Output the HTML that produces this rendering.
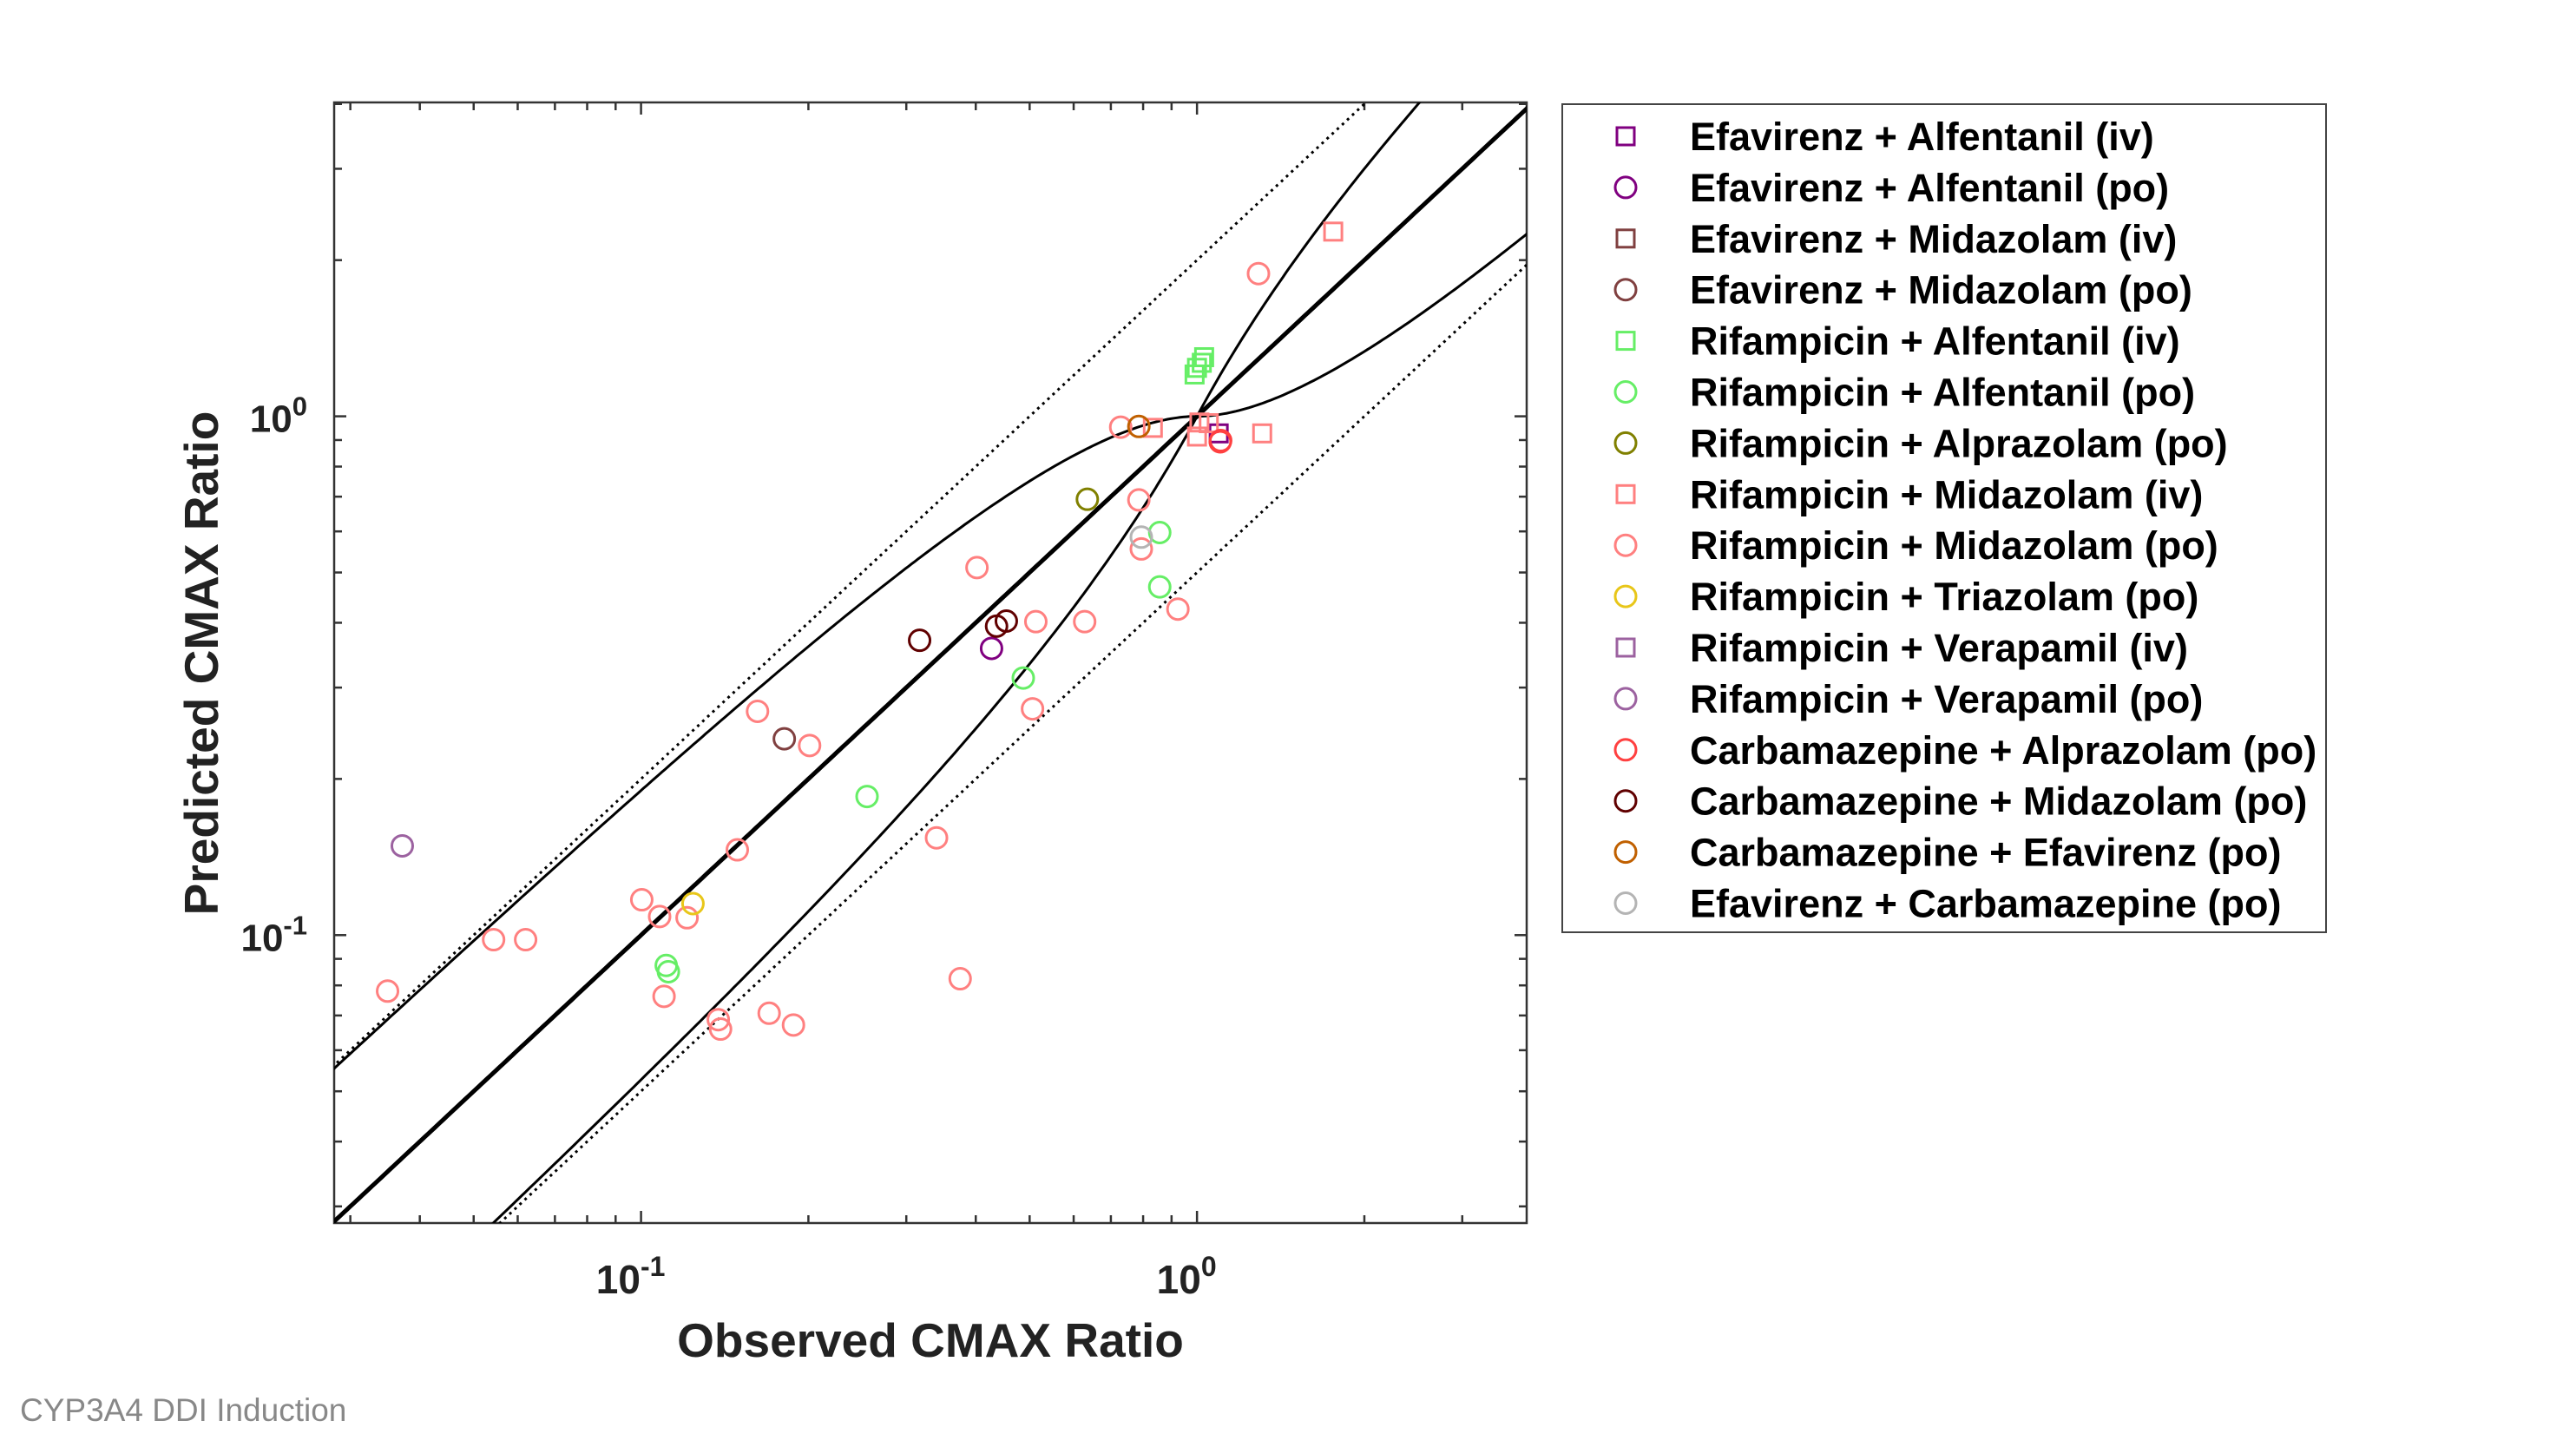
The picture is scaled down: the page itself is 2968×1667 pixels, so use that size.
<!DOCTYPE html>
<html><head><meta charset="utf-8"><style>
html,body{margin:0;padding:0;background:#fff;}
svg{display:block;font-family:"Liberation Sans",Arial,sans-serif;}
</style></head><body>
<svg id="chart" width="2968" height="1667" viewBox="0 0 2968 1667" xmlns="http://www.w3.org/2000/svg">
<rect x="0" y="0" width="2968" height="1667" fill="#fff"/>
<defs><clipPath id="pc"><rect x="385" y="118" width="1374" height="1291"/></clipPath></defs>
<g id="plot"></g>
<text x="1072" y="1563" font-size="55" font-weight="bold" text-anchor="middle" fill="#222">Observed CMAX Ratio</text>
<text transform="translate(251,764) rotate(-90)" font-size="55" font-weight="bold" text-anchor="middle" fill="#222">Predicted CMAX Ratio</text>
<text x="23" y="1637" font-size="37" fill="#888">CYP3A4 DDI Induction</text>
<g id="legend"></g>
</svg>
<script>
const seriesNames=["Efavirenz + Alfentanil (iv)","Efavirenz + Alfentanil (po)","Efavirenz + Midazolam (iv)","Efavirenz + Midazolam (po)","Rifampicin + Alfentanil (iv)","Rifampicin + Alfentanil (po)","Rifampicin + Alprazolam (po)","Rifampicin + Midazolam (iv)","Rifampicin + Midazolam (po)","Rifampicin + Triazolam (po)","Rifampicin + Verapamil (iv)","Rifampicin + Verapamil (po)","Carbamazepine + Alprazolam (po)","Carbamazepine + Midazolam (po)","Carbamazepine + Efavirenz (po)","Efavirenz + Carbamazepine (po)"];
const seriesColors=["#800080","#800080","#804040","#804040","#66ee66","#66ee66","#808000","#ff8080","#ff8080","#e8c619","#9c62a0","#9c62a0","#ff4040","#600000","#c06000","#b4b4b4"];
const seriesShapes=["s","o","s","o","s","o","o","s","o","o","s","o","o","o","o","o"];
const obsValues=[[1.094],[0.427],[],[0.181],[0.99,1.02,1.03,1.0],[0.857,0.857,0.487,0.255,0.111,0.112],[0.635],[1.758,0.833,1.01,1.05,1.0,1.31],
[0.035,0.0543,0.062,0.1003,0.108,0.121,0.110,0.1377,0.139,0.170,0.188,0.149,0.162,0.201,0.340,0.375,0.402,0.506,0.513,0.628,0.729,0.786,0.794,0.924,1.29],
[0.124],[],[0.0372],[1.101,1.103],[0.317,0.436,0.454],[0.786],[0.794]];
const predValues=[[0.927],[0.357],[],[0.239],[1.204,1.268,1.30,1.24],[0.597,0.469,0.313,0.185,0.0874,0.085],[0.692],[2.27,0.95,0.973,0.97,0.914,0.927],
[0.078,0.098,0.098,0.117,0.1086,0.108,0.0762,0.0687,0.0659,0.0707,0.0671,0.146,0.270,0.232,0.154,0.0824,0.511,0.273,0.402,0.402,0.953,0.690,0.555,0.425,1.884],
[0.115],[],[0.1486],[0.893,0.898],[0.370,0.394,0.403],[0.956],[0.585]];
const xTicks=[0.1,1];const xTickLabels=["-1","0"];
const yTicks=[0.1,1];const yTickLabels=["-1","0"];
const L=385,R=1759,T=118,B=1409;
const xl0=-1.552,xl1=0.593,yl0=-1.555,yl1=0.605;
const X=v=>L+(Math.log10(v)-xl0)/(xl1-xl0)*(R-L);
const Y=v=>B-(Math.log10(v)-yl0)/(yl1-yl0)*(B-T);
const NS="http://www.w3.org/2000/svg";
function mk(tag,attrs,parent){const e=document.createElementNS(NS,tag);for(const k in attrs)e.setAttribute(k,attrs[k]);parent.appendChild(e);return e;}
const plot=document.getElementById('plot');
const box=mk('rect',{x:L,y:T,width:R-L,height:B-T,fill:'none',stroke:'#333','stroke-width':2.5},plot);


const tg=mk('g',{stroke:'#333','stroke-width':2.5},plot);


for(let d=-2;d<=0;d++){for(let m=1;m<=9;m++){const v=m*Math.pow(10,d);
 const lx=Math.log10(v);
 if(lx>=xl0&&lx<=xl1){const x=X(v);const len=m===1?14:9;mk('line',{x1:x,x2:x,y1:B,y2:B-len},tg);mk('line',{x1:x,x2:x,y1:T,y2:T+len},tg);}
 if(lx>=yl0&&lx<=yl1){const y=Y(v);const len=m===1?14:9;mk('line',{x1:L,x2:L+len,y1:y,y2:y},tg);mk('line',{x1:R,x2:R-len,y1:y,y2:y},tg);}
}}
xTicks.forEach((v,i)=>{const t=mk('text',{x:X(v)-12,y:1490,'font-size':46,'font-weight':'bold','text-anchor':'middle',fill:'#222'},plot);
 
 
 t.innerHTML='10<tspan font-size="32" dy="-20">'+xTickLabels[i]+'</tspan>';});
yTicks.forEach((v,i)=>{const t=mk('text',{x:354,y:Y(v)+18,'font-size':44,'font-weight':'bold','text-anchor':'end',fill:'#222'},plot);
 
 
 t.innerHTML='10<tspan font-size="31" dy="-19">'+yTickLabels[i]+'</tspan>';});
const lg=mk('g',{'clip-path':'url(#pc)',fill:'none',stroke:'#000'},plot);


function pathFn(f,w,dash,name){let d='';for(let i=0;i<=400;i++){const lx=xl0-0.05+(xl1-xl0+0.1)*i/400;const x=Math.pow(10,lx);const y=f(x);d+=(i?'L':'M')+X(x).toFixed(1)+','+Y(y).toFixed(1);}
 const p=mk('path',{d:d,'stroke-width':w},lg);if(dash)p.setAttribute('stroke-dasharray',dash);
 
 }
const lim=r=>{const rr=r>=1?r:1/r;return (1+2*(rr-1))/rr;};
pathFn(x=>x,5,null,'identity-line');
pathFn(x=>2*x,3,'3 5','two-fold-upper');
pathFn(x=>x/2,3,'3 5','two-fold-lower');
pathFn(x=>x*lim(x),3,null,'guest-upper');
pathFn(x=>x/lim(x),3,null,'guest-lower');
const pg=mk('g',{'clip-path':'url(#pc)',fill:'none','stroke-width':3},plot);


seriesNames.forEach((n,s)=>{obsValues[s].forEach((o,i)=>{const x=X(o),y=Y(predValues[s][i]);let e;
 if(seriesShapes[s]==='s')e=mk('rect',{x:x-10,y:y-10,width:20,height:20,stroke:seriesColors[s]},pg);
 else e=mk('circle',{cx:x,cy:y,r:12,stroke:seriesColors[s]},pg);
 
 });});
const leg=document.getElementById('legend');
const lb=mk('rect',{x:1800,y:120,width:880,height:954,fill:'#fff',stroke:'#444','stroke-width':2},leg);


seriesNames.forEach((n,s)=>{const y=157+s*58.9;let m;
 if(seriesShapes[s]==='s')m=mk('rect',{x:1863,y:y-10,width:20,height:20,fill:'none',stroke:seriesColors[s],'stroke-width':3},leg);
 else m=mk('circle',{cx:1873,cy:y,r:12,fill:'none',stroke:seriesColors[s],'stroke-width':3},leg);
 
 
 const t=mk('text',{x:1947,y:y+16,'font-size':45,'font-weight':'bold',fill:'#000'},leg);
 t.textContent=n;
 
 });
</script>
</body></html>
